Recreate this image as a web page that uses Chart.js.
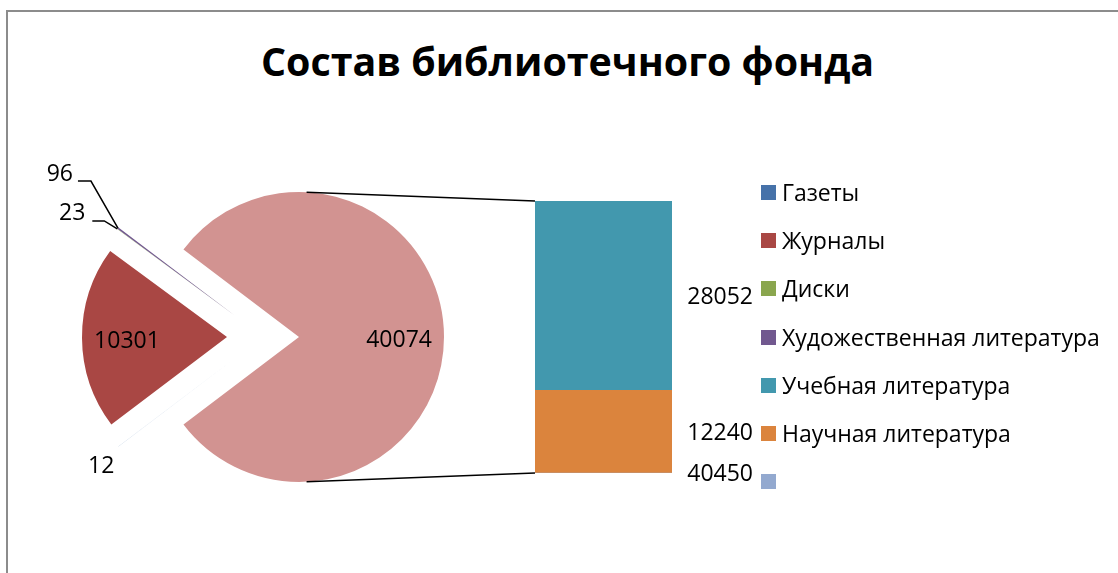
<!DOCTYPE html>
<html lang="ru">
<head>
<meta charset="utf-8">
<title>Состав библиотечного фонда</title>
<script src="https://cdn.jsdelivr.net/npm/chart.js@4.4.1/dist/chart.umd.min.js"></script>
<style>
  html, body { margin: 0; padding: 0; background: #fff; }
  body { width: 1118px; height: 573px; position: relative; overflow: hidden; font-family: 'Open Sans', sans-serif; }
  .frame { position: absolute; left: 6px; top: 10px; width: 1200px; height: 700px; border-left: 2px solid #8c8c8c; border-top: 2px solid #8c8c8c; }
  canvas { position: absolute; left: 0; top: 0; }
  .chart-title { position: absolute; left: 0; top: 41px; width: 1135px; text-align: center; font-weight: 700; font-size: 39.4px; line-height: 40px; color: #000; }
  #legend { position: absolute; left: 761px; top: 168px; }
  .legend-item { height: 48.3px; display: flex; align-items: center; font-size: 23px; line-height: 23px; color: #000; white-space: nowrap; }
  .legend-box { width: 15px; height: 15px; margin-right: 6px; flex: none; }
</style>
</head>
<body>
<div class="frame"></div>
<div class="chart-title">Состав библиотечного фонда</div>
<canvas id="pie" width="1118" height="573"></canvas>
<canvas id="bar" width="1118" height="573"></canvas>
<div id="legend"></div>

<script>
// данные круговой диаграммы (последний сектор - "прочее", раскрыт в столбец)
const pieLabels = ['Газеты', 'Журналы', 'Диски', 'Художественная литература', 'Прочее'];
const pieValues = [12, 10301, 23, 96, 40074];

// данные столбца
const barLabels = ['Учебная литература', 'Научная литература', ''];
const barValues = [28052, 12240, 0];
const barValueText = ['28052', '12240', '40450'];

const pieColors = ['#4672a9', '#a94744', '#8aa64e', '#71588f', '#d29391'];
const barColors = ['#4298ae', '#db843d', '#93a9cf'];

// смещение выдвинутых секторов (px)
const sliceShift = [[-65, 22], [-72, 0], [-65, -22], [-65, -22], [0, 0]];
// подписи снаружи: правый край и центр текста относительно края сектора, линия-выноска
const outerLabels = {
  0: { dx: -4, dy: 18, leader: null },
  2: { dx: -32, dy: -17, leader: [[-13, -8], [-25, -8]] },
  3: { dx: -45, dy: -55, leader: [[-27, -47], [-40, -47]] }
};

const labelFont = '23px "Open Sans", sans-serif';

const pieTotal = pieValues.reduce((a, b) => a + b, 0);
const smallTotal = pieValues.slice(0, 4).reduce((a, b) => a + b, 0);
const startRotation = 270 - (smallTotal / pieTotal * 360) / 2;

// сдвигаем отдельные сектора
const explodePlugin = {
  id: 'explode',
  beforeDatasetsDraw(chart) {
    chart.getDatasetMeta(0).data.forEach((arc, i) => {
      if (arc._origDraw) return;
      const shift = sliceShift[i];
      arc._origDraw = arc.draw;
      arc.draw = function (ctx) {
        ctx.save();
        ctx.translate(shift[0], shift[1]);
        this._origDraw(ctx);
        ctx.restore();
      };
    });
  }
};

const pieLabelsPlugin = {
  id: 'pieLabels',
  afterDatasetsDraw(chart) {
    const ctx = chart.ctx;
    const arcs = chart.getDatasetMeta(0).data;
    ctx.save();
    ctx.font = labelFont;
    ctx.fillStyle = '#000';
    ctx.strokeStyle = '#000';
    ctx.lineWidth = 1.5;
    arcs.forEach((arc, i) => {
      const mid = (arc.startAngle + arc.endAngle) / 2;
      const sx = arc.x + sliceShift[i][0];
      const sy = arc.y + sliceShift[i][1];
      const text = String(pieValues[i]);
      if (i === 1 || i === 4) {
        const x = sx + Math.cos(mid) * arc.outerRadius * 0.69;
        const y = sy + Math.sin(mid) * arc.outerRadius * 0.69;
        ctx.textAlign = 'center';
        ctx.fillText(text, x, y + 10);
        return;
      }
      const cfg = outerLabels[i];
      const rx = sx + Math.cos(mid) * arc.outerRadius;
      const ry = sy + Math.sin(mid) * arc.outerRadius;
      if (cfg.leader) {
        ctx.beginPath();
        ctx.moveTo(rx, ry);
        cfg.leader.forEach(p => ctx.lineTo(rx + p[0], ry + p[1]));
        ctx.stroke();
      }
      ctx.textAlign = 'right';
      ctx.fillText(text, rx + cfg.dx, ry + cfg.dy + 8);
    });
    ctx.restore();
  }
};

const pieChart = new Chart(document.getElementById('pie'), {
  type: 'pie',
  data: {
    labels: pieLabels,
    datasets: [{
      data: pieValues,
      backgroundColor: pieColors,
      borderWidth: 0,
      clip: false
    }]
  },
  options: {
    responsive: false,
    animation: false,
    rotation: startRotation,
    layout: { padding: { left: 154, right: 674, top: 192, bottom: 91 } },
    plugins: { legend: { display: false }, tooltip: { enabled: false } }
  },
  plugins: [explodePlugin, pieLabelsPlugin]
});

const barTotal = barValues.reduce((a, b) => a + b, 0);

const barExtrasPlugin = {
  id: 'barExtras',
  afterDatasetsDraw(chart) {
    const ctx = chart.ctx;
    const area = chart.chartArea;
    ctx.save();
    ctx.font = labelFont;
    ctx.fillStyle = '#000';
    ctx.textAlign = 'right';
    chart.data.datasets.forEach((ds, di) => {
      const el = chart.getDatasetMeta(di).data[0];
      const y = (el.y + el.base) / 2;
      ctx.fillText(barValueText[ds.srcIndex], area.right + 81, y + 8);
    });

    // линии от круга к столбцу
    const other = pieChart.getDatasetMeta(0).data[4];
    const a = 87 * Math.PI / 180;
    const px = other.x + other.outerRadius * Math.cos(a);
    const dy = other.outerRadius * Math.sin(a);
    ctx.strokeStyle = '#000';
    ctx.lineWidth = 1.5;
    ctx.beginPath();
    ctx.moveTo(px, other.y - dy);
    ctx.lineTo(area.left, area.top);
    ctx.moveTo(px, other.y + dy);
    ctx.lineTo(area.left, area.bottom);
    ctx.stroke();
    ctx.restore();
  }
};

new Chart(document.getElementById('bar'), {
  type: 'bar',
  data: {
    labels: [''],
    datasets: barLabels.map((name, i) => ({
      label: name,
      srcIndex: i,
      data: [barValues[i]],
      backgroundColor: barColors[i],
      borderWidth: 0,
      barPercentage: 1,
      categoryPercentage: 1
    })).reverse()
  },
  options: {
    responsive: false,
    animation: false,
    layout: { padding: { left: 535, right: 446, top: 201, bottom: 100 } },
    scales: {
      x: { display: false, stacked: true },
      y: { display: false, stacked: true, min: 0, max: barTotal }
    },
    plugins: { legend: { display: false }, tooltip: { enabled: false } }
  },
  plugins: [barExtrasPlugin]
});

// легенда
const legendEl = document.getElementById('legend');
pieLabels.slice(0, 4).map((l, i) => [l, pieColors[i]])
  .concat(barLabels.map((l, i) => [l, barColors[i]]))
  .forEach(([label, color]) => {
    const item = document.createElement('div');
    item.className = 'legend-item';
    item.innerHTML = '<span class="legend-box" style="background:' + color + '"></span><span>' + label + '</span>';
    legendEl.appendChild(item);
  });
</script>
</body>
</html>
